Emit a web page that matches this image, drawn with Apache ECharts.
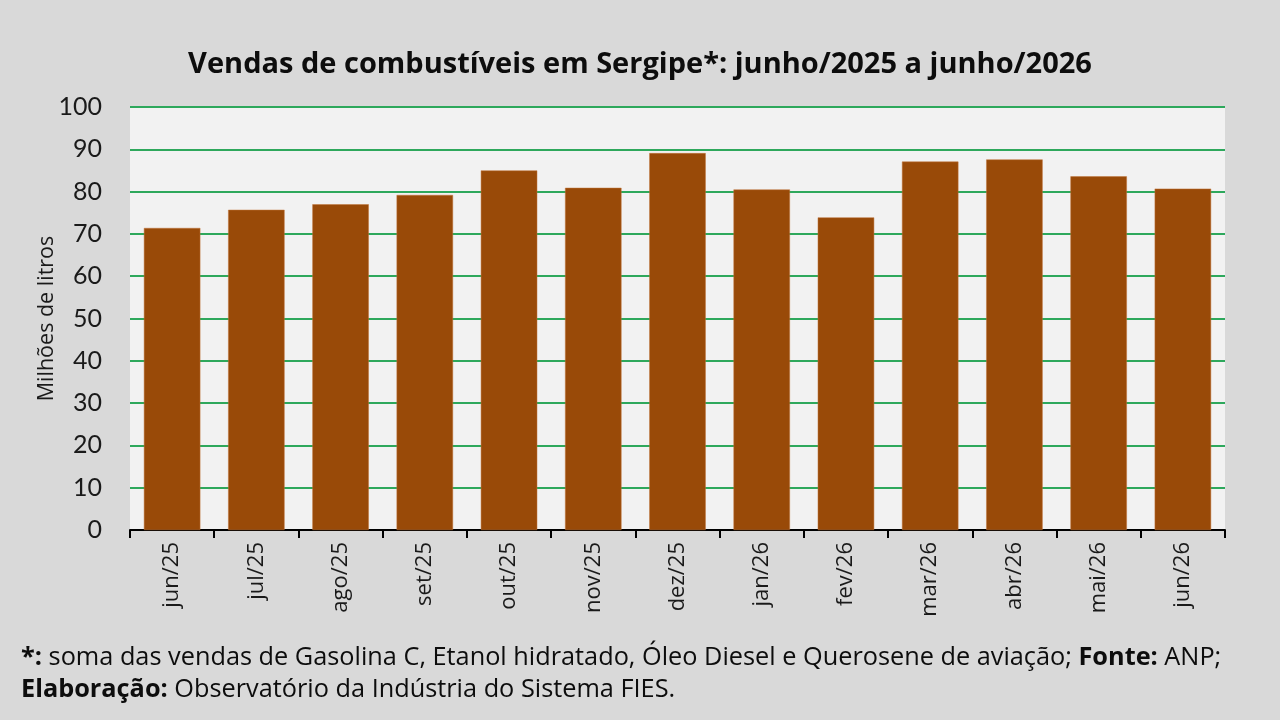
<!DOCTYPE html>
<html>
<head>
<meta charset="utf-8">
<script src="https://cdn.jsdelivr.net/npm/echarts@6/dist/echarts.min.js"></script>
<style>
  html, body { margin: 0; padding: 0; background: #d9d9d9; }
  #chart { width: 1280px; height: 720px; }
</style>
</head>
<body>
<div id="chart"></div>
<script>
const months = ['jun/25', 'jul/25', 'ago/25', 'set/25', 'out/25', 'nov/25', 'dez/25',
  'jan/26', 'fev/26', 'mar/26', 'abr/26', 'mai/26', 'jun/26'];
const sales = [71.4, 75.7, 77.0, 79.2, 85.0, 80.9, 89.1, 80.5, 73.9, 87.1, 87.6, 83.6, 80.7];
const yTicks = [0, 10, 20, 30, 40, 50, 60, 70, 80, 90, 100];

const chart = echarts.init(document.getElementById('chart'));

const textFont = '"Open Sans", sans-serif';
const noteSize = 25.3;

const option = {
  backgroundColor: '#d9d9d9',
  animation: false,
  title: [
    {
      text: 'Vendas de combustíveis em Sergipe*: junho/2025 a junho/2026',
      left: 'center',
      top: 45,
      textStyle: { fontFamily: textFont, fontWeight: 'bold', fontSize: 29, color: '#0d0d0d' },
    },
    {
      text: '{b|*:} soma das vendas de Gasolina C, Etanol hidratado, Óleo Diesel e Querosene de aviação; {b|Fonte:} ANP;',
      left: 16,
      top: 640,
      textStyle: {
        fontFamily: textFont, fontWeight: 'normal', fontSize: noteSize, color: '#0d0d0d',
        rich: { b: { fontFamily: textFont, fontWeight: 'bold', fontSize: noteSize, color: '#0d0d0d' } },
      },
    },
    {
      text: '{b|Elaboração:} Observatório da Indústria do Sistema FIES.',
      left: 16,
      top: 672,
      textStyle: {
        fontFamily: textFont, fontWeight: 'normal', fontSize: noteSize, color: '#0d0d0d',
        rich: { b: { fontFamily: textFont, fontWeight: 'bold', fontSize: noteSize, color: '#0d0d0d' } },
      },
    },
  ],
  grid: {
    left: 130,
    right: 55,
    top: 107,
    bottom: 190,
    show: true,
    backgroundColor: '#f2f2f2',
    borderWidth: 0,
  },
  xAxis: {
    type: 'category',
    data: months,
    axisLine: { lineStyle: { color: '#000', width: 2 } },
    axisTick: { show: true, alignWithLabel: false, length: 8, lineStyle: { color: '#000', width: 2 } },
    axisLabel: {
      rotate: 90,
      margin: 12,
      fontFamily: textFont,
      fontSize: 22,
      color: '#1a1a1a',
    },
  },
  yAxis: {
    type: 'value',
    min: yTicks[0],
    max: yTicks[yTicks.length - 1],
    interval: 10,
    name: 'Milhões de litros',
    nameLocation: 'middle',
    nameGap: 72,
    nameMoveOverlap: false,
    nameTextStyle: { fontFamily: textFont, fontSize: 21.5, color: '#1a1a1a' },
    axisLine: { show: false },
    axisTick: { show: false },
    axisLabel: {
      margin: 28,
      fontFamily: 'Lato, "DejaVu Sans", sans-serif',
      fontSize: 25,
      color: '#1a1a1a',
    },
    splitLine: { lineStyle: { color: '#2ea85c', width: 2 } },
  },
  series: [
    {
      type: 'bar',
      data: sales,
      barCategoryGap: '33%',
      itemStyle: { color: '#994a08', borderColor: '#c0753a', borderWidth: 0.5 },
    },
  ],
};

chart.setOption(option);
</script>
</body>
</html>
